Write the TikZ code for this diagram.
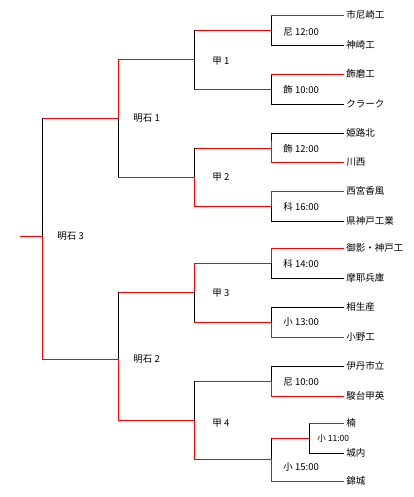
\documentclass[tikz,border=0pt]{standalone}
\usepackage{fontspec}
\newfontfamily\jpfont{Noto Sans CJK JP}
\usetikzlibrary{calc}

\begin{document}
\begin{tikzpicture}[
  x=1pt, y=-1pt,
  every path/.style={line width=0.9pt, line cap=rect},
  win/.style={draw=red},
  lose/.style={draw=black},
  team/.style={anchor=west, inner xsep=2pt, inner ysep=0pt,
               font=\jpfont\fontsize{9.5}{11}\selectfont},
  venue/.style={anchor=west, inner sep=0pt, font=\jpfont\fontsize{9.5}{11}\selectfont},
  venuesm/.style={anchor=west, inner sep=0pt, font=\jpfont\fontsize{8.5}{10}\selectfont}
]
\useasboundingbox (0,0) rectangle (413,497);

%--- Teams ---
\node[team] (amaichi) at (344,15) {市尼崎工};
\node[team] (kanzaki) at (344,45) {神崎工};
\node[team] (shikama) at (344,74) {飾磨工};
\node[team] (clark) at (344,104) {クラーク};
\node[team] (himeji) at (344,133) {姫路北};
\node[team] (kawanishi) at (344,162) {川西};
\node[team] (nishinomiya) at (344,191) {西宮香風};
\node[team] (kenkobe) at (344,221) {県神戸工業};
\node[team] (mikage) at (344,248) {御影・神戸工};
\node[team] (maya) at (344,278) {摩耶兵庫};
\node[team] (aioi) at (344,307) {相生産};
\node[team] (ono) at (344,337) {小野工};
\node[team] (itami) at (344,366) {伊丹市立};
\node[team] (sundai) at (344,396) {駿台甲英};
\node[team] (kusu) at (344,423) {楠};
\node[team] (jonai) at (344,453) {城内};
\node[team] (kinjo) at (344,481) {錦城};

%--- Round 1 ---
\coordinate (ama12) at (271,30);
\coordinate (shi10) at (271,89);
\coordinate (shi12) at (271,148);
\coordinate (ka16) at (271,206);
\coordinate (ka14) at (271,263);
\coordinate (ko13) at (271,322);
\coordinate (ama10) at (271,381);
\coordinate (ko11) at (309,438);
\coordinate (ko15) at (271,459);

\draw[lose] (ama12 |- amaichi.west) -- (ama12 |- kanzaki.west);
\draw[win] (ama12 |- amaichi.west) -- (amaichi.west);
\draw[lose] (ama12 |- kanzaki.west) -- (kanzaki.west);

\draw[lose] (shi10 |- shikama.west) -- (shi10 |- clark.west);
\draw[win] (shi10 |- shikama.west) -- (shikama.west);
\draw[lose] (shi10 |- clark.west) -- (clark.west);

\draw[lose] (shi12 |- himeji.west) -- (shi12) -- (himeji.west -| shi12);
\draw[lose] (shi12 |- himeji.west) -- (himeji.west);
\draw[win] (shi12) -- (shi12 |- kawanishi.west) -- (kawanishi.west);

\draw[lose] (ka16) -- (ka16 |- kenkobe.west) -- (kenkobe.west);
\draw[win] (nishinomiya.west) -- (ka16 |- nishinomiya.west) -- (ka16);

\draw[lose] (ka14) -- (ka14 |- maya.west) -- (maya.west);
\draw[win] (mikage.west) -- (ka14 |- mikage.west) -- (ka14);

\draw[lose] (aioi.west) -- (ko13 |- aioi.west) -- (ko13);
\draw[win] (ko13) -- (ko13 |- ono.west) -- (ono.west);

\draw[lose] (itami.west) -- (ama10 |- itami.west) -- (ama10);
\draw[win] (ama10) -- (ama10 |- sundai.west) -- (sundai.west);

\draw[lose] (ko11 |- kusu.west) -- (ko11 |- jonai.west) -- (jonai.west);
\draw[win] (ko11 |- kusu.west) -- (kusu.west);

\draw[win] (ko15 |- ko11) -- (ko11);
\draw[lose] (ko15 |- ko11) -- (ko15);
\draw[win] (ko15) -- (ko15 |- kinjo.west) -- (kinjo.west);

\node[venue] (ama12-lbl) at (283,32) {尼 12:00};
\node[venue] (shi10-lbl) at (283,90) {飾 10:00};
\node[venue] (shi12-lbl) at (283,149) {飾 12:00};
\node[venue] (ka16-lbl) at (283,207) {科 16:00};
\node[venue] (ka14-lbl) at (283,264) {科 14:00};
\node[venue] (ko13-lbl) at (283,322) {小 13:00};
\node[venue] (ama10-lbl) at (283,382) {尼 10:00};
\node[venuesm] (ko11-lbl) at (317,438) {小 11:00};
\node[venue] (ko15-lbl) at (283,467) {小 15:00};

%--- Round 2 ---
\coordinate (kou1) at (194,59);
\coordinate (kou2) at (194,177);
\coordinate (kou3) at (194,292);
\coordinate (kou4) at (194,420);

\draw[win] (kou1 |- ama12) -- (ama12);
\draw[win] (kou1 |- shi10) -- (shi10);
\draw[lose] (kou1 |- ama12) -- (kou1 |- shi10);

\draw[win] (kou2 |- shi12) -- (shi12);
\draw[win] (kou2 |- ka16) -- (ka16);
\draw[lose] (kou2 |- shi12) -- (kou2);
\draw[win] (kou2) -- (kou2 |- ka16);

\draw[win] (kou3 |- ka14) -- (ka14);
\draw[win] (kou3 |- ko13) -- (ko13);
\draw[lose] (kou3) -- (kou3 |- ko13);
\draw[win] (kou3 |- ka14) -- (kou3);

\draw[win] (kou4 |- ama10) -- (ama10);
\draw[win] (kou4 |- ko15) -- (ko15);
\draw[lose] (kou4 |- ama10) -- (kou4);
\draw[win] (kou4) -- (kou4 |- ko15);

\node[venue] (kou1-lbl) at (212,61) {甲 1};
\node[venue] (kou2-lbl) at (212,177) {甲 2};
\node[venue] (kou3-lbl) at (212,293) {甲 3};
\node[venue] (kou4-lbl) at (212,423) {甲 4};

%--- Round 3 ---
\coordinate (akashi1) at (118,118);
\coordinate (akashi2) at (118,359);

\draw[win] (akashi1 |- kou1) -- (kou1);
\draw[win] (akashi1 |- kou2) -- (kou2);
\draw[lose] (akashi1) -- (akashi1 |- kou2);
\draw[win] (akashi1 |- kou1) -- (akashi1);

\draw[win] (akashi2 |- kou3) -- (kou3);
\draw[win] (akashi2 |- kou4) -- (kou4);
\draw[lose] (akashi2 |- kou3) -- (akashi2);
\draw[win] (akashi2) -- (akashi2 |- kou4);

\node[venue] (akashi1-lbl) at (133,118) {明石 1};
\node[venue] (akashi2-lbl) at (133,359) {明石 2};

%--- Final ---
\coordinate (akashi3) at (42,236);
\coordinate (root) at (20,236);

\draw[win] (akashi3 |- akashi1) -- (akashi1);
\draw[win] (akashi3 |- akashi2) -- (akashi2);
\draw[lose] (akashi3 |- akashi1) -- (akashi3);
\draw[win] (akashi3) -- (akashi3 |- akashi2);
\draw[win] (root) -- (akashi3);

\node[venue] (akashi3-lbl) at (57,236) {明石 3};

\end{tikzpicture}
\end{document}
